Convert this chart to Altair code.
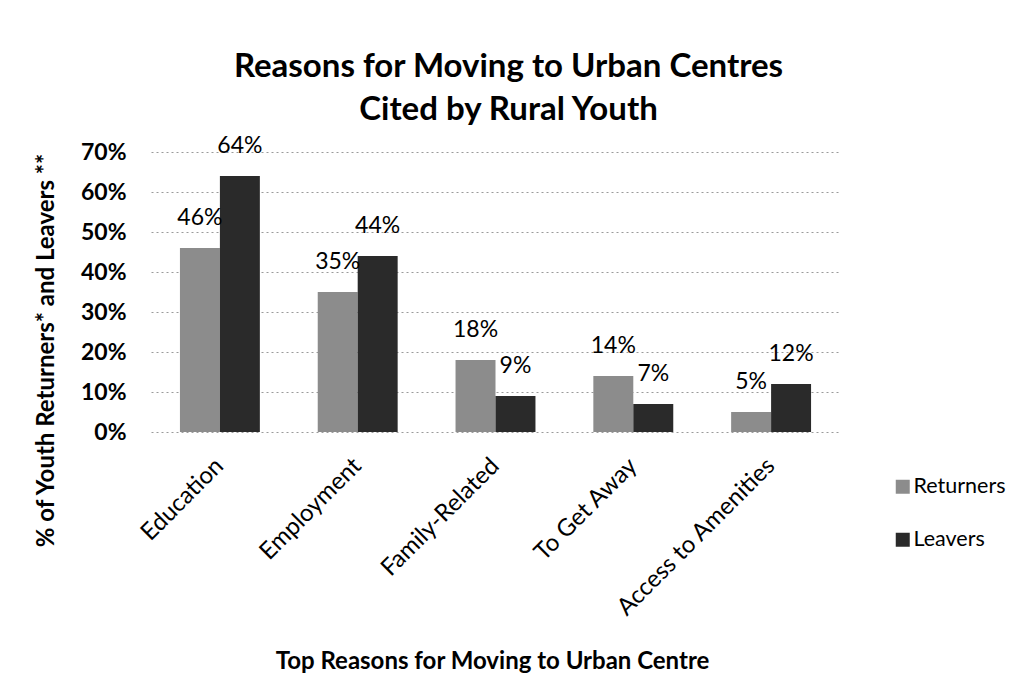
import altair as alt
import pandas as pd

reasons = ["Education", "Employment", "Family-Related", "To Get Away", "Access to Amenities"]
returners = [46, 35, 18, 14, 5]
leavers = [64, 44, 9, 7, 12]
groups = ["Returners", "Leavers"]
colors = ["#8c8c8c", "#2a2a2a"]
y_ticks = [0, 0.1, 0.2, 0.3, 0.4, 0.5, 0.6, 0.7]

rows = []
for r, a, b in zip(reasons, returners, leavers):
    rows.append({"reason": r, "group": "Returners", "value": a / 100})
    rows.append({"reason": r, "group": "Leavers", "value": b / 100})
df = pd.DataFrame(rows)

FONT = "Lato"

x = alt.X(
    "reason:N",
    sort=reasons,
    scale=alt.Scale(paddingInner=0.42, paddingOuter=0.21),
    axis=alt.Axis(
        title="Top Reasons for Moving to Urban Centre",
        labelAngle=-45,
        labelAlign="right",
        labelBaseline="middle",
        labelPadding=30,
        labelFontSize=24,
        labelFont=FONT,
        labelColor="#000000",
        labelLimit=0,
        labelOverlap=False,
        ticks=False,
        domain=False,
        titleFont=FONT,
        titleFontSize=24,
        titleFontWeight="bold",
        titleColor="#000000",
        titleX=341,
        titleY=236,
        titleAlign="center",
        titleBaseline="alphabetic",
    ),
)
xo = alt.XOffset("group:N", sort=groups, scale=alt.Scale(paddingInner=0, paddingOuter=0))
y = alt.Y(
    "value:Q",
    scale=alt.Scale(domain=[0, 0.7], nice=False, zero=True),
    axis=alt.Axis(
        title="% of Youth Returners* and Leavers **",
        format=".0%",
        values=y_ticks,
        tickCount=8,
        labelFontSize=23,
        labelFont=FONT,
        labelFontWeight="bold",
        labelColor="#000000",
        labelPadding=25,
        labelOverlap=False,
        ticks=False,
        tickSize=0,
        domain=False,
        grid=True,
        gridDash=[2, 3],
        gridColor="#9a9a9a",
        titleFont=FONT,
        titleFontSize=24,
        titleFontWeight="bold",
        titleColor="#000000",
        titleX=-98,
        titleY=198,
        titleAlign="center",
        titleBaseline="alphabetic",
        titleAngle=270,
    ),
)

color = alt.Color(
    "group:N",
    sort=groups,
    scale=alt.Scale(domain=groups, range=colors),
    legend=alt.Legend(
        title=None,
        orient="none",
        legendX=741,
        legendY=324,
        symbolType="square",
        symbolSize=196,
        symbolStrokeWidth=0,
        labelFont=FONT,
        labelFontSize=21.5,
        labelColor="#000000",
        labelOffset=0,
        rowPadding=30,
        padding=0,
    ),
)

base = alt.Chart(df).encode(x=x, xOffset=xo, y=y)

bars = base.mark_bar().encode(color=color)

labels = base.mark_text(
    baseline="middle", align="center", dy=-30, font=FONT, fontSize=23, color="#000000"
).encode(
    text=alt.Text("value:Q", format=".0%"),
)

chart = (
    alt.layer(bars, labels)
    .properties(
        width=689,
        height=280,
        background="#ffffff",
        autosize=alt.AutoSizeParams(type="none"),
        padding={"left": 143, "top": 144, "right": 188, "bottom": 243},
        title=alt.TitleParams(
            text=["Reasons for Moving to Urban Centres", "Cited by Rural Youth"],
            font=FONT,
            fontSize=33,
            fontWeight="bold",
            color="#000000",
            anchor="middle",
            frame="group",
            dx=13,
            offset=8,
            lineHeight=43,
        ),
    )
    .configure_view(strokeWidth=0, stroke="transparent")
)

chart.save("out.html", embed_options={"renderer": "svg", "actions": False})
